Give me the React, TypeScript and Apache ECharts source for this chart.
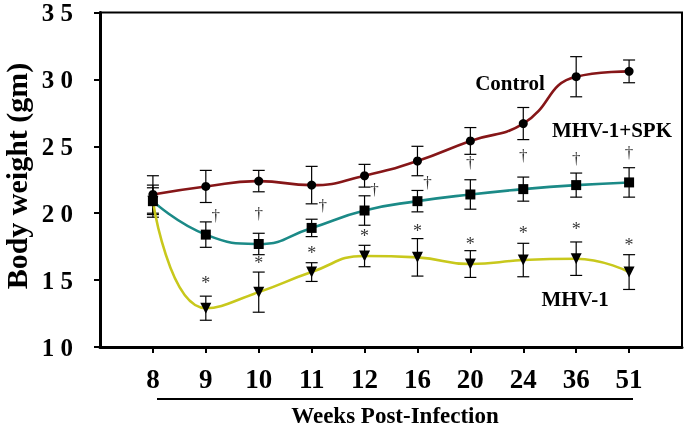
import React, { useEffect, useRef } from "react";
import * as echarts from "echarts";

const weeks = ["8", "9", "10", "11", "12", "16", "20", "24", "36", "51"];
const controlMean = [21.4, 22.0, 22.4, 22.1, 22.8, 23.9, 25.4, 26.7, 30.2, 30.6];
const controlErr = [1.4, 1.2, 0.8, 1.4, 0.85, 1.1, 1.0, 1.2, 1.5, 0.85];
const spkMean = [20.9, 18.4, 17.7, 18.9, 20.2, 20.9, 21.4, 21.8, 22.1, 22.3];
const spkErr = [1.2, 0.95, 0.8, 0.65, 1.1, 0.8, 1.1, 0.9, 0.9, 1.1];
const mhvMean = [20.9, 12.9, 14.1, 15.6, 16.8, 16.7, 16.2, 16.5, 16.6, 15.6];
const mhvErr = [1.0, 0.9, 1.5, 0.7, 0.8, 1.4, 1.0, 1.25, 1.25, 1.3];
// significance marks (value-axis heights)
const daggerY = [null, 19.8, 20.0, 20.6, 21.8, 22.3, 23.8, 24.3, 24.1, 24.55];
const daggerDx = [0, 10, 0, 11, 10, 10, 0, 0, 0, 0];
const starY = [null, 14.8, 16.3, 17.0, 18.3, 18.7, 17.7, 18.55, 18.8, 17.6];
const yTicks = [10, 15, 20, 25, 30, 35];

const categories = ["", ...weeks, ""];
const FONT = "'Liberation Serif', 'Times New Roman', serif";

function errData(mean: number[], err: number[]) {
  return mean.map((m, i) => [i + 1, m - err[i], m + err[i]]);
}

const errorRender = (params: any, api: any) => {
  const x = api.value(0);
  const lo = api.coord([x, api.value(1)]);
  const hi = api.coord([x, api.value(2)]);
  const w = 6;
  const style = { stroke: "#000", lineWidth: 1.2 };
  return {
    type: "group",
    children: [
      { type: "line", shape: { x1: lo[0], y1: lo[1], x2: hi[0], y2: hi[1] }, style },
      { type: "line", shape: { x1: hi[0] - w, y1: hi[1], x2: hi[0] + w, y2: hi[1] }, style },
      { type: "line", shape: { x1: lo[0] - w, y1: lo[1], x2: lo[0] + w, y2: lo[1] }, style },
    ],
  };
};

export default function App() {
  const ref = useRef<HTMLDivElement>(null);
  useEffect(() => {
    if (!ref.current) return;
    const chart = echarts.init(ref.current, null, { renderer: "svg" });
    const lineSeries = (name: string, data: number[], color: string, symbol: string, size: number, rot = 0) => ({
      type: "line",
      name,
      data: data.map((v, i) => [i + 1, v]),
      smooth: 0.5,
      symbol,
      symbolSize: size,
      symbolRotate: rot,
      lineStyle: { color, width: 2.6 },
      itemStyle: { color: "#000" },
      z: 3,
    });
    const marks = (ys: (number | null)[], text: string, size: number, dx: number[] | null, bold: boolean) => ({
      type: "scatter",
      symbolSize: 0,
      silent: true,
      data: ys
        .map((v, i) => (v === null ? null : { value: [i + 1, v], label: { offset: [dx ? dx[i] : 0, 0] } }))
        .filter((d) => d !== null),
      label: {
        show: true,
        position: "inside",
        formatter: text,
        color: "#000",
        fontFamily: FONT,
        fontWeight: bold ? "bold" : "normal",
        fontSize: size,
      },
      z: 4,
    });
    chart.setOption({
      animation: false,
      grid: {
        left: 100,
        top: 11,
        right: 2,
        bottom: 80,
        show: true,
        borderColor: "#000",
        borderWidth: 2,
      },
      xAxis: {
        type: "category",
        data: categories,
        boundaryGap: false,
        axisLine: { lineStyle: { color: "#000", width: 3 } },
        axisTick: {
          interval: (i: number) => i > 0 && i < categories.length - 1,
          length: 6,
          lineStyle: { color: "#000", width: 2 },
        },
        axisLabel: {
          interval: 0,
          margin: 18,
          color: "#000",
          fontFamily: FONT,
          fontWeight: "bold",
          fontSize: 27,
        },
        splitLine: { show: false },
      },
      yAxis: {
        type: "value",
        min: 10,
        max: 35,
        interval: 5,
        axisLine: { show: true, lineStyle: { color: "#000", width: 3 } },
        axisTick: { show: true, length: 6, lineStyle: { color: "#000", width: 2 } },
        axisLabel: {
          margin: 27,
          color: "#000",
          fontFamily: FONT,
          fontWeight: "bold",
          fontSize: 25,
          formatter: (v: number) => (yTicks.includes(v) ? String(v).split("").join(" ") : ""),
        },
        splitLine: { show: false },
      },
      series: [
        { type: "custom", renderItem: errorRender, data: errData(controlMean, controlErr), z: 2, silent: true },
        { type: "custom", renderItem: errorRender, data: errData(spkMean, spkErr), z: 2, silent: true },
        { type: "custom", renderItem: errorRender, data: errData(mhvMean, mhvErr), z: 2, silent: true },
        lineSeries("MHV-1", mhvMean, "#c8c81c", "triangle", 11, 180),
        lineSeries("MHV-1+SPK", spkMean, "#1b8a87", "rect", 10),
        lineSeries("Control", controlMean, "#861618", "circle", 9),
        marks(daggerY, "†", 17, daggerDx, false),
        marks(starY, "*", 18, null, false),
      ],
      graphic: [
        {
          type: "text",
          x: 16,
          y: 176,
          rotation: Math.PI / 2,
          style: {
            text: "Body weight (gm)",
            font: `bold 30px ${FONT}`,
            fill: "#000",
            align: "center",
            verticalAlign: "middle",
          },
        },
        {
          type: "text",
          x: 510,
          y: 83,
          style: { text: "Control", font: `bold 21px ${FONT}`, fill: "#000", align: "center", verticalAlign: "middle" },
        },
        {
          type: "text",
          x: 612,
          y: 130,
          style: { text: "MHV-1+SPK", font: `bold 21px ${FONT}`, fill: "#000", align: "center", verticalAlign: "middle" },
        },
        {
          type: "text",
          x: 575,
          y: 299,
          style: { text: "MHV-1", font: `bold 21px ${FONT}`, fill: "#000", align: "center", verticalAlign: "middle" },
        },
        {
          type: "line",
          shape: { x1: 157, y1: 399, x2: 633, y2: 399 },
          style: { stroke: "#000", lineWidth: 2 },
        },
        {
          type: "text",
          x: 395,
          y: 415,
          style: {
            text: "Weeks Post-Infection",
            font: `bold 23px ${FONT}`,
            fill: "#000",
            align: "center",
            verticalAlign: "middle",
          },
        },
      ],
    });
    return () => chart.dispose();
  }, []);
  return <div ref={ref} style={{ position: "fixed", left: 0, top: 0, width: 685, height: 427 }} />;
}
